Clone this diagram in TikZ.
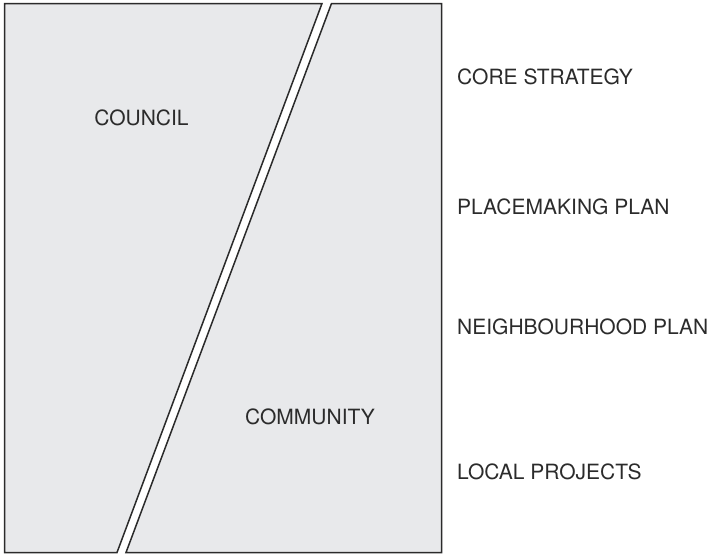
\documentclass[tikz,border=0pt]{standalone}
\usepackage{fontspec}
\setmainfont{TeX Gyre Heros}
\definecolor{panelgrey}{HTML}{E8E9EB}
\definecolor{inkgrey}{HTML}{2B2B2B}
\tikzset{
	panel/.style={draw=inkgrey,fill=panelgrey,line width=1.5pt,line join=miter},
	tag/.style={text=inkgrey,font=\fontsize{21}{25}\selectfont,inner sep=0pt}
}
\begin{document}
\begin{tikzpicture}[x=1pt,y=-1pt]
	\useasboundingbox (0,0) rectangle (710,555);

	% the two halves of the box, split by a slanted strip
	\draw[panel] (4.5,3.5) -- (322,3.5) -- (117,552.5) -- (4.5,552.5) -- cycle;
	\draw[panel] (331.5,3.5) -- (441.5,3.5) -- (441.5,552.5) -- (126,552.5) -- cycle;

	\node[tag] (council) at (141.5,117.5) {COUNCIL};
	\node[tag] (community) at (310,417) {COMMUNITY};

	% levels on the right
	\node[tag,anchor=west] (core) at (457,77) {CORE STRATEGY};
	\node[tag,anchor=west] (placemaking) at (457,207) {PLACEMAKING PLAN};
	\node[tag,anchor=west] (neighbourhood) at (457,327) {NEIGHBOURHOOD PLAN};
	\node[tag,anchor=west] (local) at (457,472) {LOCAL PROJECTS};
\end{tikzpicture}
\end{document}
